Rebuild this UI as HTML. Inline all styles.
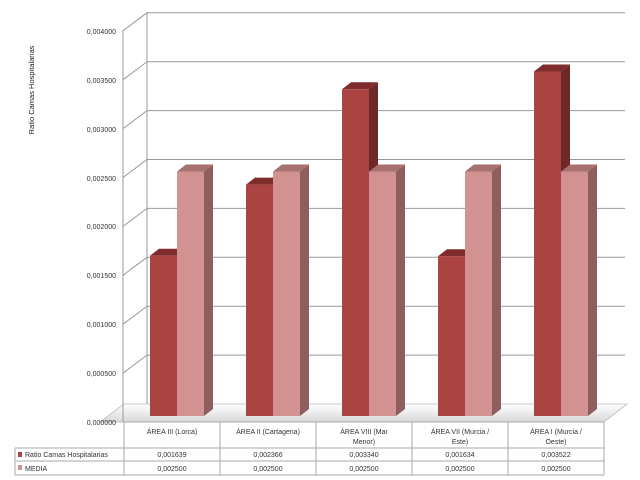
<!DOCTYPE html>
<html><head><meta charset="utf-8"><style>
body{margin:0;background:#fff;}
svg{display:block;font-family:"Liberation Sans",sans-serif;}
</style></head><body>
<svg width="640" height="480" viewBox="0 0 640 480" xmlns="http://www.w3.org/2000/svg">
<defs>
<linearGradient id="fl" x1="0" y1="0" x2="0" y2="1"><stop offset="0" stop-color="#ffffff"/><stop offset="1" stop-color="#d8d8d8"/></linearGradient>
</defs>
<polygon points="100,422 604,422 627,404 124,404" fill="url(#fl)" stroke="#bbb" stroke-width="0.8"/>
<g stroke="#999" stroke-width="1" fill="none">
<line x1="147" y1="12" x2="147" y2="404"/>
<line x1="123" y1="30" x2="123" y2="422"/>
<polyline points="123,373.1 147,355.1 625,355.1"/>
<polyline points="123,324.2 147,306.2 625,306.2"/>
<polyline points="123,275.3 147,257.3 625,257.3"/>
<polyline points="123,226.4 147,208.4 625,208.4"/>
<polyline points="123,177.5 147,159.5 625,159.5"/>
<polyline points="123,128.6 147,110.6 625,110.6"/>
<polyline points="123,79.7 147,61.7 625,61.7"/>
<polyline points="123,30.8 147,12.8 625,12.8"/>
</g>
<g font-size="7" fill="#333" text-anchor="end">
<text x="116" y="425">0,000000</text>
<text x="116" y="376">0,000500</text>
<text x="116" y="327">0,001000</text>
<text x="116" y="278">0,001500</text>
<text x="116" y="229">0,002000</text>
<text x="116" y="181">0,002500</text>
<text x="116" y="132">0,003000</text>
<text x="116" y="83">0,003500</text>
<text x="116" y="34">0,004000</text>
</g>
<text transform="translate(34,90) rotate(-90)" font-size="7.5" fill="#222" text-anchor="middle">Ratio Camas  Hospitalarias</text>

<g>
<!-- group 1 -->
<polygon points="177,255.7 186,248.7 186,409 177,416" fill="#6e2828"/>
<polygon points="150,255.7 159,248.7 186,248.7 177,255.7" fill="#7e2c2c"/>
<rect x="150" y="255.7" width="27" height="160.3" fill="#ab4343"/>
<polygon points="204,171.5 213,164.5 213,409 204,416" fill="#8e5e5e"/>
<polygon points="177,171.5 186,164.5 213,164.5 204,171.5" fill="#a87070"/>
<rect x="177" y="171.5" width="27" height="244.5" fill="#d29292"/>
<!-- group 2 -->
<polygon points="273,184.6 282,177.6 282,409 273,416" fill="#6e2828"/>
<polygon points="246,184.6 255,177.6 282,177.6 273,184.6" fill="#7e2c2c"/>
<rect x="246" y="184.6" width="27" height="231.4" fill="#ab4343"/>
<polygon points="300,171.5 309,164.5 309,409 300,416" fill="#8e5e5e"/>
<polygon points="273,171.5 282,164.5 309,164.5 300,171.5" fill="#a87070"/>
<rect x="273" y="171.5" width="27" height="244.5" fill="#d29292"/>
<!-- group 3 -->
<polygon points="369,89.3 378,82.3 378,409 369,416" fill="#6e2828"/>
<polygon points="342,89.3 351,82.3 378,82.3 369,89.3" fill="#7e2c2c"/>
<rect x="342" y="89.3" width="27" height="326.7" fill="#ab4343"/>
<polygon points="396,171.5 405,164.5 405,409 396,416" fill="#8e5e5e"/>
<polygon points="369,171.5 378,164.5 405,164.5 396,171.5" fill="#a87070"/>
<rect x="369" y="171.5" width="27" height="244.5" fill="#d29292"/>
<!-- group 4 -->
<polygon points="465,256.2 474,249.2 474,409 465,416" fill="#6e2828"/>
<polygon points="438,256.2 447,249.2 474,249.2 465,256.2" fill="#7e2c2c"/>
<rect x="438" y="256.2" width="27" height="159.8" fill="#ab4343"/>
<polygon points="492,171.5 501,164.5 501,409 492,416" fill="#8e5e5e"/>
<polygon points="465,171.5 474,164.5 501,164.5 492,171.5" fill="#a87070"/>
<rect x="465" y="171.5" width="27" height="244.5" fill="#d29292"/>
<!-- group 5 -->
<polygon points="561,71.5 570,64.5 570,409 561,416" fill="#6e2828"/>
<polygon points="534,71.5 543,64.5 570,64.5 561,71.5" fill="#7e2c2c"/>
<rect x="534" y="71.5" width="27" height="344.5" fill="#ab4343"/>
<polygon points="588,171.5 597,164.5 597,409 588,416" fill="#8e5e5e"/>
<polygon points="561,171.5 570,164.5 597,164.5 588,171.5" fill="#a87070"/>
<rect x="561" y="171.5" width="27" height="244.5" fill="#d29292"/>
</g>

<g stroke="#aaa" stroke-width="1" fill="none">
<line x1="124" y1="422" x2="604" y2="422"/>
<line x1="15" y1="448" x2="604" y2="448"/>
<line x1="15" y1="461" x2="604" y2="461"/>
<line x1="15" y1="475" x2="604" y2="475"/>
<line x1="15" y1="448" x2="15" y2="475"/>
<line x1="124" y1="422" x2="124" y2="475"/>
<line x1="220" y1="422" x2="220" y2="475"/>
<line x1="316" y1="422" x2="316" y2="475"/>
<line x1="412" y1="422" x2="412" y2="475"/>
<line x1="508" y1="422" x2="508" y2="475"/>
<line x1="604" y1="422" x2="604" y2="475"/>
</g>
<g font-size="7" fill="#333" text-anchor="middle">
<text x="172" y="434">ÁREA III (Lorca)</text>
<text x="268" y="434">ÁREA II (Cartagena)</text>
<text x="364" y="434">ÁREA VIII (Mar</text><text x="364" y="444">Menor)</text>
<text x="460" y="434">ÁREA VII (Murcia /</text><text x="460" y="444">Este)</text>
<text x="556" y="434">ÁREA I (Murcia /</text><text x="556" y="444">Oeste)</text>
<text x="172" y="457">0,001639</text><text x="268" y="457">0,002366</text><text x="364" y="457">0,003340</text><text x="460" y="457">0,001634</text><text x="556" y="457">0,003522</text>
<text x="172" y="471">0,002500</text><text x="268" y="471">0,002500</text><text x="364" y="471">0,002500</text><text x="460" y="471">0,002500</text><text x="556" y="471">0,002500</text>
</g>
<rect x="18" y="452" width="4" height="5" fill="#a84444"/>
<rect x="18" y="465" width="4" height="5" fill="#d09494"/>
<g font-size="7" fill="#333"><text x="25" y="457">Ratio Camas Hospitalarias</text><text x="25" y="471">MEDIA</text></g>
</svg>
</body></html>
